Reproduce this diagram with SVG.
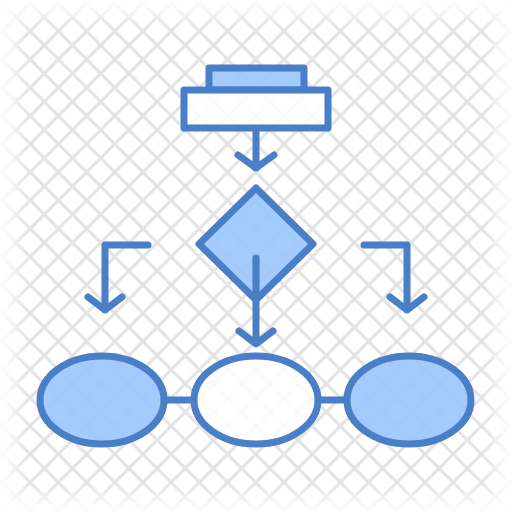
<svg xmlns="http://www.w3.org/2000/svg" width="512" height="512" viewBox="0 0 512 512">
  <defs>
    <pattern id="grid" x="2" y="3" width="28.2" height="28.2" patternUnits="userSpaceOnUse">
      <path d="M-2,-2 L30.2,30.2 M-2,30.2 L30.2,-2" stroke="#e3e3e3" stroke-width="3" fill="none"/>
    </pattern>
    <filter id="soft" x="-10%" y="-10%" width="120%" height="120%">
      <feGaussianBlur stdDeviation="9"/>
    </filter>
    <mask id="fade">
      <rect x="14" y="14" width="484" height="484" fill="#fff" filter="url(#soft)"/>
    </mask>
  </defs>
  <style>
    .s { stroke: #4a7ec7; stroke-width: 7; stroke-linecap: round; stroke-linejoin: round; fill: none; }
    .f { fill: #99c5fc; fill-opacity: 0.9; }
    .w { fill: #ffffff; fill-opacity: 0.85; }
  </style>
  <rect width="512" height="512" fill="#ffffff"/>
  <rect width="512" height="512" fill="url(#grid)" mask="url(#fade)"/>

  <g id="connectors">
    <path class="s" d="M256,132 V168 M238,155 L256,168 L274,155"/>
    <path class="s" d="M256,258 V343 M239,331 L256,344 L273,331"/>
    <path class="s" d="M148,245 H105 V310 M88,297 L105,310 L122,297"/>
    <path class="s" d="M364,245 H407 V310 M390,297 L407,310 L424,297"/>
    <path class="s" d="M164,400 H194 M318,400 H347"/>
  </g>

  <g id="node-top-tab">
    <rect class="s f" x="209" y="68" width="95" height="22"/>
  </g>
  <g id="node-top-rect">
    <rect class="s w" x="184" y="90" width="144" height="38"/>
  </g>
  <g id="node-diamond">
    <polygon class="s f" points="256,188 313,244 256,300 199,244"/>
    <path class="s" d="M256,258 V300"/>
  </g>
  <g id="node-left-ellipse">
    <ellipse class="s f" cx="102" cy="400" rx="62" ry="44"/>
  </g>
  <g id="node-center-ellipse">
    <ellipse class="s w" cx="256" cy="400" rx="62" ry="44"/>
  </g>
  <g id="node-right-ellipse">
    <ellipse class="s f" cx="409" cy="400" rx="62" ry="44"/>
  </g>
</svg>
